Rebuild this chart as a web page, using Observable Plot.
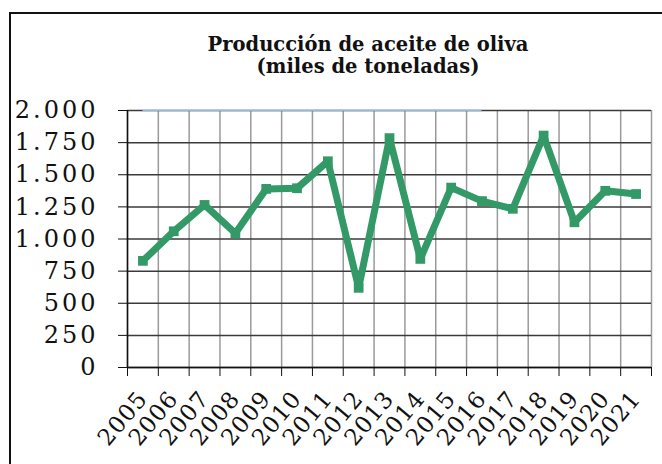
<!DOCTYPE html>
<html>
<head>
<meta charset="utf-8">
<script src="https://cdn.jsdelivr.net/npm/d3@7"></script>
<script src="https://cdn.jsdelivr.net/npm/@observablehq/plot@0.6"></script>
<style>
  html, body { margin: 0; padding: 0; background: #fff; }
  #wrap { position: relative; width: 662px; height: 464px; overflow: hidden; background: #fff; }
  #border { position: absolute; left: 9px; top: 12px; width: 700px; height: 520px; border-left: 2.5px solid #111; border-top: 2.5px solid #111; }
  #title { position: absolute; left: 168px; top: 34px; width: 400px; text-align: center;
           font-family: "DejaVu Serif", serif; font-weight: bold; font-size: 19.5px; line-height: 22px; color: #111; }
  #chart { position: absolute; left: 0; top: 0; }
  #chart g[aria-label="y-axis tick label"] text { letter-spacing: 3px; }
  #chart g[aria-label="x-axis tick label"] text { letter-spacing: 1px; }
</style>
</head>
<body>
<div id="wrap">
  <div id="border"></div>
  <div id="title">Producción de aceite de oliva<br>(miles de toneladas)</div>
  <div id="chart"></div>
</div>
<script>
const years = [2005, 2006, 2007, 2008, 2009, 2010, 2011, 2012, 2013, 2014, 2015, 2016, 2017, 2018, 2019, 2020, 2021];
const production = [830, 1060, 1265, 1045, 1390, 1395, 1605, 620, 1785, 845, 1400, 1295, 1235, 1805, 1130, 1375, 1350];
const yTicks = [0, 250, 500, 750, 1000, 1250, 1500, 1750, 2000];

const green = "#339966";
const esFmt = d3.formatLocale({decimal: ",", thousands: ".", grouping: [3], currency: ["", " €"]}).format(",");
const bounds = [...years.map(y => y - 0.5), years[years.length - 1] + 0.5];
const data = years.map((y, i) => ({year: y, value: production[i]}));

const chart = Plot.plot({
  width: 662,
  height: 464,
  marginLeft: 127,
  marginRight: 11,
  marginTop: 110,
  marginBottom: 97,
  x: {type: "linear", domain: [bounds[0], bounds[bounds.length - 1]]},
  y: {domain: [0, 2000]},
  style: {fontFamily: "DejaVu Serif", background: "transparent", color: "#111", overflow: "visible"},
  marks: [
    Plot.ruleX(bounds, {stroke: "#9a9a9a", strokeWidth: 1.5}),
    Plot.ruleY(yTicks, {stroke: "#3a3a3a", strokeWidth: 1.5}),
    Plot.ruleY([2000], {x1: years[0], x2: 2016, stroke: "#8cbbea", strokeWidth: 1.5}),
    Plot.ruleX([bounds[0]], {stroke: "#111", strokeWidth: 1.5}),
    Plot.ruleY([0], {stroke: "#111", strokeWidth: 1.5}),
    Plot.axisY({ticks: yTicks, tickFormat: esFmt, tickSize: 9, tickPadding: 20, fontSize: 24, label: null}),
    Plot.axisX({ticks: bounds, tickFormat: () => "", tickSize: 9, label: null}),
    Plot.axisX({ticks: years, tickFormat: d => String(d), tickSize: 0, tickPadding: 27, tickRotate: -50, fontSize: 23, label: null}),
    Plot.line(data, {x: "year", y: "value", stroke: green, strokeWidth: 7, strokeLinejoin: "miter"}),
    Plot.dot(data, {x: "year", y: "value", symbol: "square", r: 5.5, fill: green, stroke: "none"})
  ]
});
document.getElementById("chart").appendChild(chart);
</script>
</body>
</html>
